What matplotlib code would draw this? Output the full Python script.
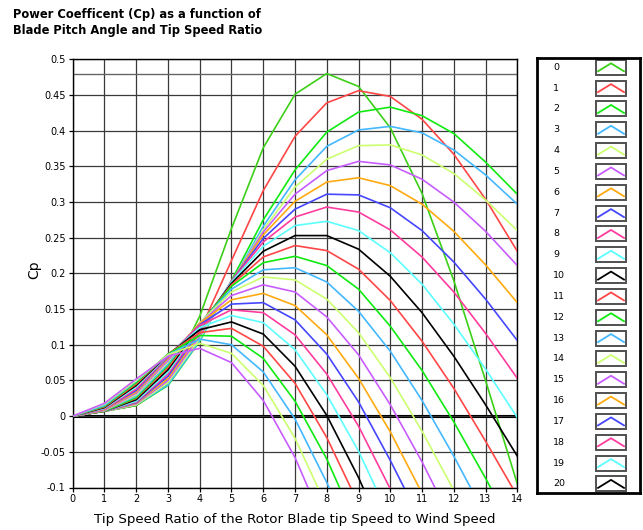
import matplotlib
matplotlib.use('Agg')
import matplotlib.pyplot as plt
from matplotlib.patches import Rectangle

# tip speed ratio (x) and blade pitch angle (one curve per angle)
tsr = list(range(15))
pitch = list(range(26))
legend_pitch = list(range(21))

cp_b0 = [0, 0.007, 0.015, 0.050, 0.140, 0.263, 0.376, 0.451, 0.480, 0.462, 0.404, 0.312, 0.190, 0.050, -0.095]
cp_b1 = [0, 0.007, 0.015, 0.045, 0.119, 0.218, 0.316, 0.392, 0.439, 0.456, 0.448, 0.416, 0.367, 0.304, 0.231]
cp_b2 = [0, 0.007, 0.015, 0.043, 0.105, 0.190, 0.275, 0.345, 0.398, 0.426, 0.433, 0.421, 0.396, 0.356, 0.311]
cp_b3 = [0, 0.007, 0.016, 0.044, 0.106, 0.187, 0.266, 0.331, 0.378, 0.401, 0.406, 0.397, 0.373, 0.338, 0.297]
cp_b4 = [0, 0.007, 0.016, 0.047, 0.109, 0.187, 0.261, 0.321, 0.360, 0.379, 0.380, 0.366, 0.340, 0.303, 0.260]
cp_b5 = [0, 0.007, 0.017, 0.050, 0.112, 0.188, 0.258, 0.311, 0.344, 0.357, 0.352, 0.332, 0.300, 0.259, 0.211]
cp_b6 = [0, 0.007, 0.018, 0.053, 0.116, 0.189, 0.254, 0.301, 0.328, 0.334, 0.323, 0.297, 0.259, 0.212, 0.159]
cp_b7 = [0, 0.007, 0.019, 0.056, 0.119, 0.189, 0.249, 0.290, 0.311, 0.310, 0.292, 0.260, 0.216, 0.164, 0.106]
cp_b8 = [0, 0.007, 0.020, 0.059, 0.121, 0.189, 0.244, 0.279, 0.293, 0.286, 0.261, 0.223, 0.174, 0.116, 0.053]
cp_b9 = [0, 0.007, 0.021, 0.062, 0.124, 0.188, 0.238, 0.267, 0.273, 0.260, 0.229, 0.185, 0.129, 0.066, -0.002]
cp_b10 = [0, 0.007, 0.023, 0.065, 0.126, 0.186, 0.231, 0.253, 0.253, 0.234, 0.196, 0.145, 0.084, 0.016, -0.056]
cp_b11 = [0, 0.007, 0.025, 0.068, 0.128, 0.184, 0.223, 0.239, 0.232, 0.206, 0.162, 0.105, 0.039, -0.035, -0.112]
cp_b12 = [0, 0.007, 0.026, 0.071, 0.129, 0.182, 0.215, 0.224, 0.211, 0.178, 0.126, 0.064, -0.008, -0.087, -0.170]
cp_b13 = [0, 0.008, 0.028, 0.073, 0.130, 0.178, 0.205, 0.208, 0.188, 0.147, 0.091, 0.022, -0.056, -0.140, -0.228]
cp_b14 = [0, 0.008, 0.030, 0.076, 0.131, 0.174, 0.195, 0.191, 0.164, 0.117, 0.054, -0.021, -0.104, -0.194, -0.286]
cp_b15 = [0, 0.008, 0.032, 0.078, 0.130, 0.169, 0.184, 0.174, 0.139, 0.086, 0.016, -0.064, -0.153, -0.240, -0.330]
cp_b16 = [0, 0.009, 0.034, 0.081, 0.130, 0.163, 0.172, 0.155, 0.114, 0.053, -0.022, -0.108, -0.200, -0.290, -0.380]
cp_b17 = [0, 0.010, 0.036, 0.083, 0.128, 0.157, 0.159, 0.135, 0.087, 0.020, -0.062, -0.150, -0.240, -0.330, -0.420]
cp_b18 = [0, 0.010, 0.038, 0.084, 0.127, 0.149, 0.145, 0.114, 0.059, -0.014, -0.102, -0.190, -0.280, -0.370, -0.460]
cp_b19 = [0, 0.011, 0.041, 0.085, 0.124, 0.141, 0.131, 0.093, 0.030, -0.049, -0.144, -0.240, -0.330, -0.420, -0.510]
cp_b20 = [0, 0.012, 0.043, 0.086, 0.121, 0.132, 0.115, 0.070, 0.001, -0.086, -0.186, -0.280, -0.370, -0.460, -0.550]
cp_b21 = [0, 0.013, 0.045, 0.087, 0.117, 0.123, 0.098, 0.046, -0.030, -0.123, -0.220, -0.310, -0.400, -0.500, -0.590]
cp_b22 = [0, 0.014, 0.047, 0.087, 0.113, 0.112, 0.081, 0.021, -0.060, -0.160, -0.260, -0.350, -0.440, -0.540, -0.630]
cp_b23 = [0, 0.015, 0.049, 0.086, 0.108, 0.100, 0.062, -0.004, -0.093, -0.190, -0.290, -0.380, -0.480, -0.570, -0.660]
cp_b24 = [0, 0.017, 0.050, 0.086, 0.102, 0.088, 0.043, -0.031, -0.127, -0.220, -0.320, -0.410, -0.510, -0.600, -0.690]
cp_b25 = [0, 0.018, 0.052, 0.084, 0.095, 0.075, 0.022, -0.058, -0.161, -0.260, -0.360, -0.450, -0.550, -0.640, -0.730]

curves = [cp_b0, cp_b1, cp_b2, cp_b3, cp_b4, cp_b5, cp_b6, cp_b7, cp_b8, cp_b9,
          cp_b10, cp_b11, cp_b12, cp_b13, cp_b14, cp_b15, cp_b16, cp_b17, cp_b18,
          cp_b19, cp_b20, cp_b21, cp_b22, cp_b23, cp_b24, cp_b25]

yticks = [-0.1, -0.05, 0, 0.05, 0.1, 0.15, 0.2, 0.25, 0.3, 0.35, 0.4, 0.45, 0.5]
ytick_labels = ['-0.1', '-0.05', '0', '0.05', '0.1', '0.15', '0.2', '0.25', '0.3', '0.35', '0.4', '0.45', '0.5']

# colour cycle repeats every 10 plots, plot 0 has its own green
cycle = ['#000000', '#ff4646', '#10ea10', '#44b8ff', '#ccff70', '#c85cff',
         '#ffaa10', '#4646ff', '#ff3c9e', '#5cffff']
def plot_color(b):
    if b == 0:
        return '#3cd018'
    return cycle[b % 10]

W, H = 643, 530
fig = plt.figure(figsize=(W / 100, H / 100), dpi=100)
fig.patch.set_facecolor('white')

x0, x1, ytop, ybot = 72.7, 517.3, 59.3, 487.5
ax = fig.add_axes([x0 / W, 1 - ybot / H, (x1 - x0) / W, (ybot - ytop) / H])

for b in pitch:
    ax.plot(tsr, curves[b], color=plot_color(b), lw=1.2, solid_joinstyle='miter', zorder=3)

ax.set_xlim(0, 14)
ax.set_ylim(-0.1, 0.5)
ax.set_xticks(tsr)
ax.set_yticks(yticks)
ax.set_yticklabels(ytick_labels)
ax.tick_params(labelsize=7, length=3, width=0.9, pad=2, colors='black')
ax.set_axisbelow(True)
ax.grid(True, color='#3a3a3a', lw=0.9)
ax.axhline(0.48, color='#666666', lw=1.0, zorder=1)
ax.axhline(0.0017, color='black', lw=0.8, zorder=1)
ax.axhline(-0.0017, color='black', lw=0.8, zorder=1)
for s in ax.spines.values():
    s.set_color('black')
    s.set_linewidth(1.0)

fig.text(13 / W, 1 - 8 / H, 'Power Coefficent (Cp) as a function of\nBlade Pitch Angle and Tip Speed Ratio',
         fontsize=8.3, fontweight='bold', ha='left', va='top', linespacing=1.3)
fig.text(34 / W, 1 - 270 / H, 'Cp', rotation=90, fontsize=10, ha='center', va='center')
fig.text(295 / W, 1 - 520 / H, 'Tip Speed Ratio of the Rotor Blade tip Speed to Wind Speed',
         fontsize=9.6, ha='center', va='center')

# plot legend panel
lx0, lx1, ly0, ly1 = 537, 640, 58, 493
lg = fig.add_axes([lx0 / W, 1 - ly1 / H, (lx1 - lx0) / W, (ly1 - ly0) / H])
lg.set_xlim(0, lx1 - lx0)
lg.set_ylim(ly1 - ly0, 0)
lg.set_xticks([])
lg.set_yticks([])
for s in lg.spines.values():
    s.set_linewidth(2)
    s.set_color('black')

for i in legend_pitch:
    yc = 9.3 + i * 20.83
    lg.text(16, yc, str(i), fontsize=6.8, ha='left', va='center')
    lg.add_patch(Rectangle((59, yc - 7.5), 30, 15, fc='white', ec='#505050', lw=1.4))
    lg.plot([61, 74, 87], [yc + 4, yc - 4, yc + 4], color=plot_color(i), lw=1.3)

fig.savefig('out.png', dpi=100)
